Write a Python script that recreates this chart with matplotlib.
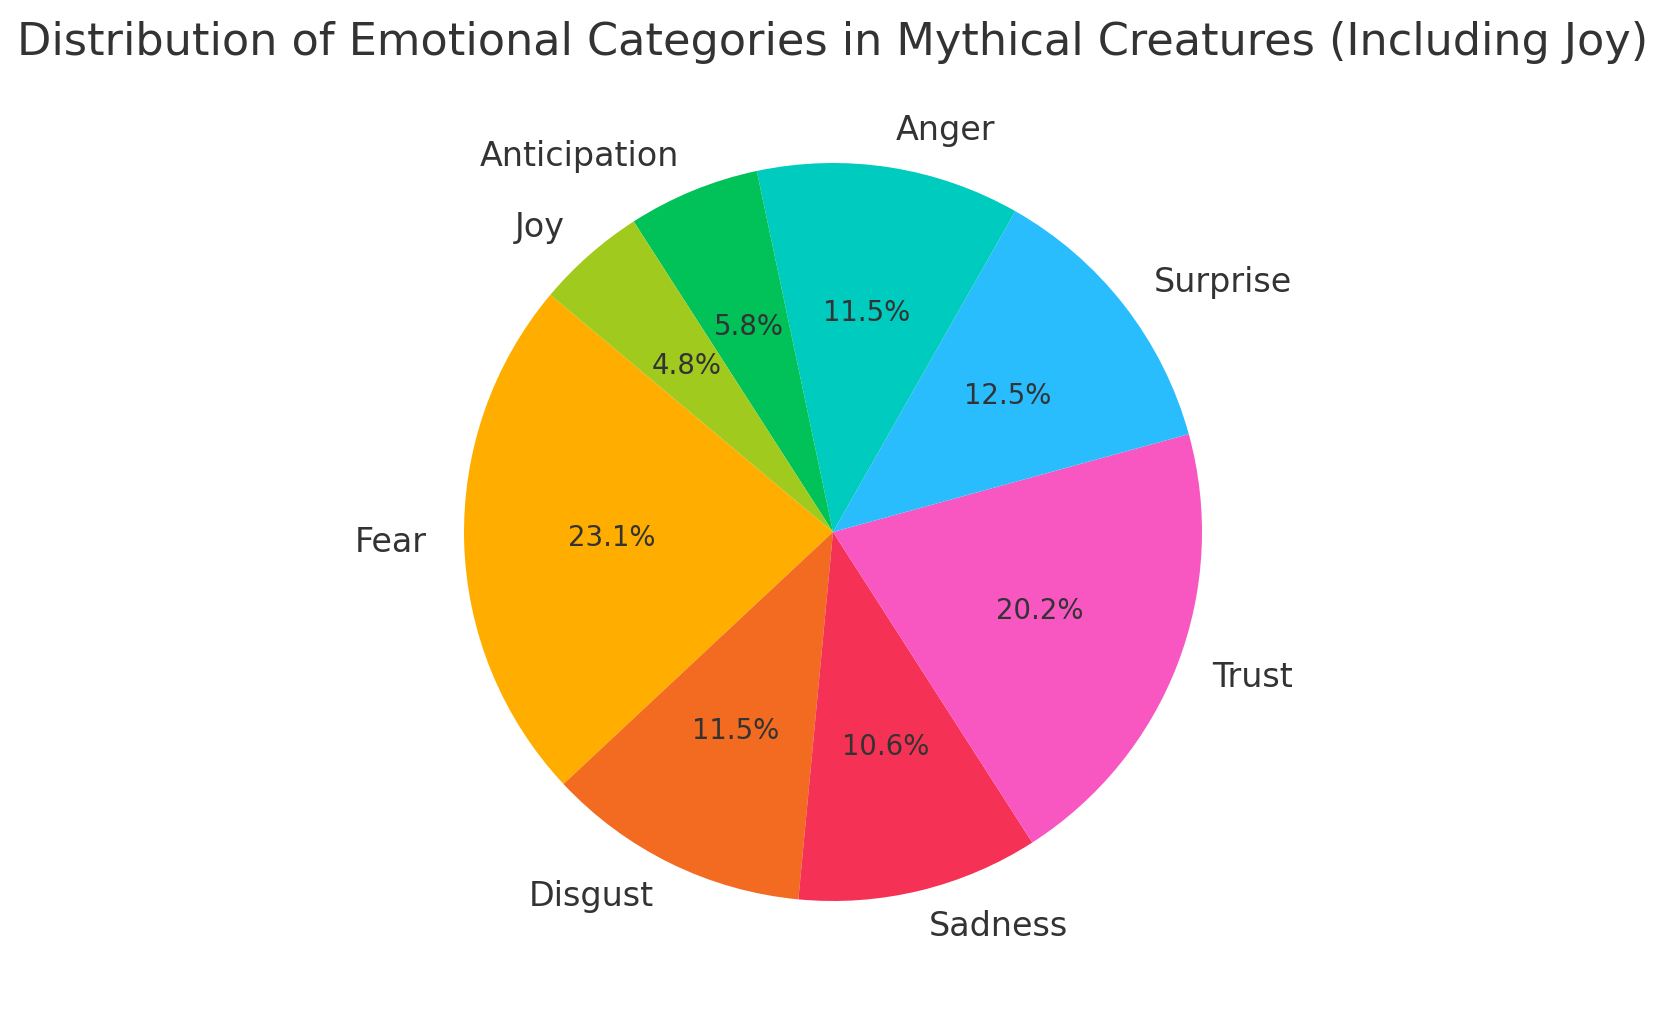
import matplotlib
matplotlib.use('Agg')
import matplotlib.pyplot as plt

# data (counts out of 104)
labels = ['Fear', 'Disgust', 'Sadness', 'Trust', 'Surprise', 'Anger', 'Anticipation', 'Joy']
counts = [24, 12, 11, 21, 13, 12, 6, 5]
colors = ['#FFAE00', '#F26B21', '#F53255', '#F857C1', '#29BDFD', '#00CBBF', '#01C159', '#A0CB1E']

W, H = 1667, 1014
cx, cy, r = 833, 1014 - 532, 369

fig = plt.figure(figsize=(W / 100, H / 100), dpi=100)
ax = fig.add_axes([0, 0, 1, 1])

wedges, texts, autotexts = ax.pie(counts, labels=labels, colors=colors, startangle=140,
                                  autopct='%1.1f%%', labeldistance=1.1, pctdistance=0.6,
                                  textprops={'color': '#333333', 'fontsize': 24})
for t in autotexts:
    t.set_fontsize(19.8)

# axes limits so that 1 unit = r pixels, centre at (cx, cy)
ax.set_aspect('auto')
ax.set_xlim(-cx / r, (W - cx) / r)
ax.set_ylim(-cy / r, (H - cy) / r)
ax.axis('off')

fig.text(cx / W, 1 - 42 / H, 'Distribution of Emotional Categories in Mythical Creatures (Including Joy)',
         ha='center', va='center', fontsize=32.1, color='#333333')

fig.savefig('out.png', dpi=100)
